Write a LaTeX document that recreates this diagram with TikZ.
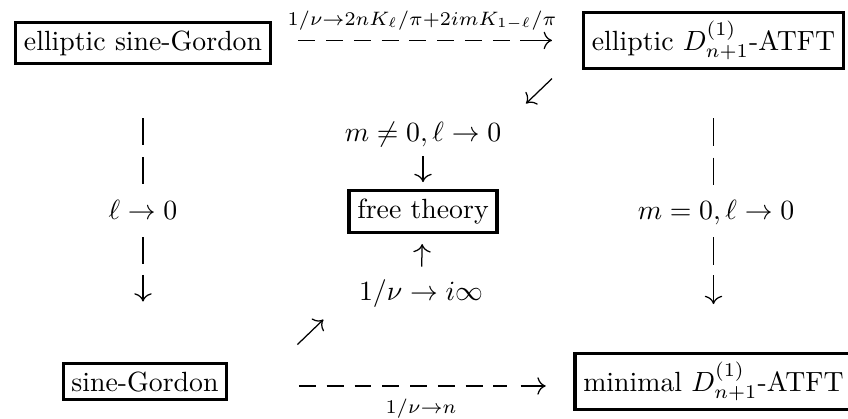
\documentclass[tikz,border=0pt]{standalone}
\usepackage{amsmath, amssymb}
\usepackage{tikz}
\usetikzlibrary{arrows.meta}

\tikzset{
  theory/.style={draw, line width=1.1pt, inner sep=3pt, anchor=base},
  cond/.style={anchor=base},
  limlab/.style={anchor=base, inner sep=0pt},
  dashseg/.style={line width=0.45pt, dash pattern=on 6.1pt off 3.9pt},
  vdashseg/.style={line width=0.45pt, dash pattern=on 9.8pt off 4.3pt},
  limarr/.style={line width=0.45pt, -{To[length=3pt]}},
}

\begin{document}
\begin{tikzpicture}[x=0.36pt, y=-0.36pt]
  \useasboundingbox (0,0) rectangle (848,418);
  % top row
  \node[theory] (esg) at (143,50) {elliptic sine-Gordon};
  \node[theory] (eD) at (713.5,50) {elliptic $D^{(1)}_{n+1}$-ATFT};
  % middle row
  \node[cond] (lcond) at (143,219) {$\ell\to0$};
  \node[theory] (free) at (423,218.5) {free theory};
  \node[cond] (rcond) at (716,219) {$m=0,\ell\to0$};
  \node[cond] (mcond) at (423,141) {$m\neq0,\ell\to0$};
  \node[cond] (nucond) at (421,300) {$1/\nu\to i\infty$};
  % bottom row
  \node[theory] (sg) at (145,391) {sine-Gordon};
  \node[theory] (minD) at (713.5,391) {minimal $D^{(1)}_{n+1}$-ATFT};
  % limits on the horizontal arrows
  \node[limlab] (toplab) at (422,25) {$\scriptstyle 1/\nu\to2nK_\ell/\pi+2imK_{1-\ell}/\pi$};
  \node[limlab] (botlab) at (421,413) {$\scriptstyle 1/\nu\to n$};

  % horizontal arrows
  \draw[dashseg, shorten <=9.5pt, shorten >=25pt] ([yshift=0.9pt]esg.east) -- ([yshift=0.9pt]esg.east -| eD.west);
  \draw[limarr, shorten <=89.4pt, shorten >=10.8pt] ([yshift=0.9pt]esg.east) -- ([yshift=0.9pt]esg.east -| eD.west);
  \draw[dashseg, shorten <=25.4pt, shorten >=24pt] ([yshift=-1.6pt]sg.east) -- ([yshift=-1.6pt]sg.east -| minD.west);
  \draw[limarr, shorten <=105.2pt, shorten >=10pt] ([yshift=-1.6pt]sg.east) -- ([yshift=-1.6pt]sg.east -| minD.west);

  % vertical arrows
  \draw[vdashseg, shorten <=19pt, shorten >=64pt] (esg.south) -- (esg.south |- sg.north);
  \draw[vdashseg, shorten <=62pt, shorten >=35pt] (esg.south) -- (esg.south |- sg.north);
  \draw[limarr, shorten <=75.5pt, shorten >=21.6pt] (esg.south) -- (esg.south |- sg.north);
  \draw[vdashseg, shorten <=17.6pt, shorten >=59.7pt] (eD.south) -- (eD.south |- minD.north);
  \draw[vdashseg, shorten <=60.4pt, shorten >=31pt] (eD.south) -- (eD.south |- minD.north);
  \draw[limarr, shorten <=74pt, shorten >=17.3pt] (eD.south) -- (eD.south |- minD.north);

  % towards the free theory
  \draw[limarr, shorten >=2.5pt] (mcond) -- (free);
  \draw[limarr, shorten <=1pt, shorten >=3.6pt] (nucond) -- (free);
  \draw[limarr] ([shift={(-30,9)}]eD.south west) -- ++(-26,25);
  \draw[limarr] ([shift={(69,-17)}]sg.north east) -- ++(26,-25);
\end{tikzpicture}
\end{document}
